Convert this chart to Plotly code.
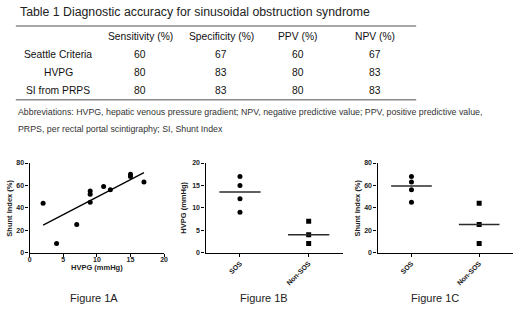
import numpy as np
import plotly.graph_objects as go

W, H = 520, 309
FONT = "Liberation Sans, Arial, sans-serif"

# ---------------- data ----------------
table_title = "Table 1 Diagnostic accuracy for sinusoidal obstruction syndrome"
table_columns = ["Sensitivity (%)", "Specificity (%)", "PPV (%)", "NPV (%)"]
table_rows = ["Seattle Criteria", "HVPG", "SI from PRPS"]
sensitivity = [60, 80, 80]
specificity = [67, 83, 83]
ppv = [60, 80, 80]
npv = [67, 83, 83]
abbreviations = [
    "Abbreviations: HVPG, hepatic venous pressure gradient; NPV, negative predictive value; PPV, positive predictive value,",
    "PRPS, per rectal portal scintigraphy; SI, Shunt Index",
]

hvpg_1a = [2, 4, 7, 9, 9, 9, 11, 12, 15, 15, 17]
si_1a = [44, 8, 25, 45, 52, 55, 59, 56, 68, 70, 63]

groups = ["SOS", "Non-SOS"]
sos_hvpg = [17, 15, 12, 9]
nonsos_hvpg = [7, 4, 2]
sos_si = [68, 63, 56, 45]
nonsos_si = [44, 25, 8]

figure_labels = ["Figure 1A", "Figure 1B", "Figure 1C"]


def px(x):
    return x / W


def py(y):
    return 1 - y / H


fig = go.Figure()

# ---------------- Figure 1A ----------------
fig.add_trace(go.Scatter(x=hvpg_1a, y=si_1a, mode="markers",
                         marker=dict(color="black", size=5, symbol="circle"),
                         xaxis="x", yaxis="y", showlegend=False))
slope, intercept = np.polyfit(hvpg_1a, si_1a, 1)
xl = np.array([min(hvpg_1a), max(hvpg_1a)])
fig.add_trace(go.Scatter(x=xl, y=slope * xl + intercept, mode="lines",
                         line=dict(color="black", width=1.3),
                         xaxis="x", yaxis="y", showlegend=False))


def group_traces(xa, ya, a, b):
    for i, (vals, sym) in enumerate([(a, "circle"), (b, "square")]):
        fig.add_trace(go.Scatter(x=[i] * len(vals), y=vals, mode="markers",
                                 marker=dict(color="black", size=5, symbol=sym),
                                 xaxis=xa, yaxis=ya, showlegend=False))
        m = float(np.median(vals))
        fig.add_trace(go.Scatter(x=[i - 0.3, i + 0.3], y=[m, m], mode="lines",
                                 line=dict(color="#2a2a2a", width=1.5),
                                 xaxis=xa, yaxis=ya, showlegend=False))


group_traces("x2", "y2", sos_hvpg, nonsos_hvpg)
group_traces("x3", "y3", sos_si, nonsos_si)

ydom = [py(254.3), py(162.7)]
tickfont = dict(family=FONT, size=7, color="#222222", weight="bold")
common = dict(showline=True, linecolor="black", linewidth=1.4, ticks="outside",
              ticklen=3, tickwidth=1.2, tickcolor="black", showgrid=False,
              zeroline=False, tickfont=tickfont, fixedrange=True)

fig.update_layout(
    xaxis=dict(domain=[px(28), px(164)], range=[0, 20], tickvals=[0, 5, 10, 15, 20],
               anchor="y", ticklabelstandoff=-3, **common),
    yaxis=dict(domain=ydom, range=[0, 80], tickvals=[0, 20, 40, 60, 80],
               anchor="x", **common),
    xaxis2=dict(domain=[px(206), px(345)], range=[-0.5, 1.5], tickvals=[0, 1],
                ticktext=groups, tickangle=-45, anchor="y2", **common),
    yaxis2=dict(domain=ydom, range=[0, 20], tickvals=[0, 5, 10, 15, 20],
                anchor="x2", **common),
    xaxis3=dict(domain=[px(380), px(517)], range=[-0.5, 1.5], tickvals=[0, 1],
                ticktext=groups, tickangle=-45, anchor="y3", **common),
    yaxis3=dict(domain=ydom, range=[0, 80], tickvals=[0, 20, 40, 60, 80],
                anchor="x3", **common),
)

ann = []
shapes = []

# ---------------- table ----------------
ann.append(dict(x=px(16), y=py(8), text=table_title, xanchor="left", yanchor="middle",
                font=dict(family=FONT, size=12.3, color="#222222")))
shapes.append(dict(type="line", xref="paper", yref="paper", x0=px(14), x1=px(419),
                   y0=py(22.5), y1=py(22.5), line=dict(color="#8a8a8a", width=1.5)))
shapes.append(dict(type="line", xref="paper", yref="paper", x0=px(14), x1=px(419),
                   y0=py(98), y1=py(98), line=dict(color="#8a8a8a", width=1.5)))

col_x = [140, 222, 299, 377]
row_y = [51.7, 70.3, 89]
cell_font = dict(family=FONT, size=10.3, color="#111111")
for cx, name in zip(col_x, table_columns):
    ann.append(dict(x=px(cx), y=py(33), text=name, xanchor="center", yanchor="middle",
                    font=cell_font))
columns_vals = [sensitivity, specificity, ppv, npv]
for r, (ry, rname) in enumerate(zip(row_y, table_rows)):
    ann.append(dict(x=px(57), y=py(ry), text=rname, xanchor="center", yanchor="middle",
                    font=cell_font))
    for cx, vals in zip(col_x, columns_vals):
        ann.append(dict(x=px(cx), y=py(ry), text=str(vals[r]), xanchor="center",
                        yanchor="middle", font=cell_font))

for ly, line in zip([110, 128], abbreviations):
    ann.append(dict(x=px(14), y=py(ly), text=line, xanchor="left", yanchor="middle",
                    font=dict(family=FONT, size=8.8, color="#333333")))

# ---------------- axis titles ----------------
tfont = dict(family=FONT, size=7.5, color="#222222", weight="bold")
ann.append(dict(x=px(8), y=py(208.5), text="Shunt Index (%)", textangle=-90,
                xanchor="center", yanchor="middle", font=tfont))
ann.append(dict(x=px(96), y=py(270), text="HVPG (mmHg)", xanchor="center",
                yanchor="middle", font=tfont))
ann.append(dict(x=px(184), y=py(208.5), text="HVPG (mmHg)", textangle=-90,
                xanchor="center", yanchor="middle", font=tfont))
ann.append(dict(x=px(360), y=py(208.5), text="Shunt Index (%)", textangle=-90,
                xanchor="center", yanchor="middle", font=tfont))

# ---------------- figure labels ----------------
for fx, lab in zip([93, 265, 438], figure_labels):
    ann.append(dict(x=px(fx), y=py(301), text=lab, xanchor="center", yanchor="middle",
                    font=dict(family=FONT, size=11, color="#222222")))

for a in ann:
    a.update(xref="paper", yref="paper", showarrow=False)

fig.update_layout(width=W, height=H, margin=dict(l=0, r=0, t=0, b=0),
                  paper_bgcolor="white", plot_bgcolor="white",
                  annotations=ann, shapes=shapes, showlegend=False)

fig.write_html("out.html", config=dict(displayModeBar=False),
               post_script="document.body.style.margin='0';document.body.style.overflow='hidden';")
